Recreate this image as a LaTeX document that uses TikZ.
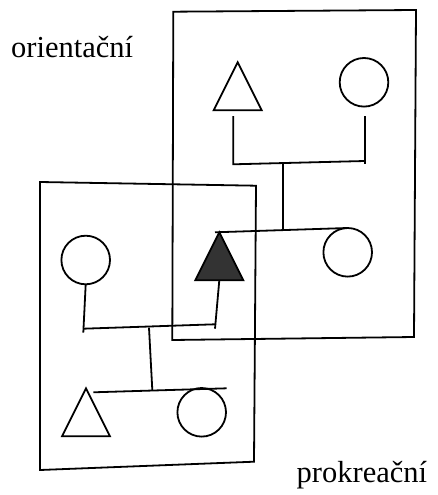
\documentclass[tikz,border=0pt]{standalone}
\usepackage{fontspec}
\setmainfont{Liberation Serif}
\usetikzlibrary{shapes.geometric}
\definecolor{darkfill}{HTML}{333333}
\tikzset{
  ln/.style={line width=1.8pt, line cap=butt, line join=miter},
  frame/.style={ln},
  female/.style={circle, draw, ln, minimum size=48.6pt, inner sep=0pt, outer sep=0pt},
  male/.style={isosceles triangle, isosceles triangle stretches, shape border rotate=90,
    draw, ln, minimum width=48pt, minimum height=48pt, inner sep=0pt, outer sep=0pt, anchor=apex},
  ego/.style={male, fill=darkfill},
  lab/.style={inner sep=0pt, anchor=base west, font=\fontsize{30.5}{35}\selectfont}
}
\begin{document}
\begin{tikzpicture}[x=1pt,y=-1pt]
\useasboundingbox (0,0) rectangle (437,495);
% frames
\draw[frame] (173.3,11.7) -- (416,10) -- (414,337) -- (172.3,340) -- cycle;
\draw[frame] (40,182) -- (256,185.7) -- (254,461.7) -- (40,470) -- cycle;
% labels
\node[lab] (lo) at (11,57.3) {orientační};
\node[lab] (lp) at (296.5,482.3) {prokreační};
% persons
\node[male] (T1) at (237.7,62.3) {};
\node[female] (C1) at (364,82.3) {};
\node[ego] (T2) at (219.3,232.3) {};
\node[female] (C2) at (347.7,252.3) {};
\node[female] (C3) at (85.7,260) {};
\node[male] (T3) at (86,388.3) {};
\node[female] (C4) at (201.7,412.3) {};
% junction coordinates
\coordinate (a1) at (233.3,116);
\coordinate (a2) at (233.3,164.3);
\coordinate (b1) at (364.7,116);
\coordinate (b2) at (364.7,164);
\coordinate (b3) at (364.7,161);
\coordinate (m1) at (283,163.3);
\coordinate (m2) at (283,229.3);
\coordinate (s1) at (215,232.3);
\coordinate (c1) at (83.3,332.7);
\coordinate (c2) at (83.3,328.7);
\coordinate (d1) at (215,328.7);
\coordinate (d2) at (215,324.3);
\coordinate (n1) at (149,327.7);
\coordinate (n2) at (152.3,390);
\coordinate (s2) at (93.3,392.3);
\coordinate (s3) at (226.7,388.3);
% orientation family
\draw[ln] (a1) -- (a2) -- (b3);
\draw[ln] (b1) -- (b2);
\draw[ln] (m1) -- (m2);
\draw[ln] (s1) -- (C2.north);
% procreation family
\draw[ln] (C3.south) -- (c1);
\draw[ln] (c2) -- (d2);
\draw[ln] (T2.south) -- (d1);
\draw[ln] (n1) -- (n2);
\draw[ln] (s2) -- (s3);
\end{tikzpicture}
\end{document}
